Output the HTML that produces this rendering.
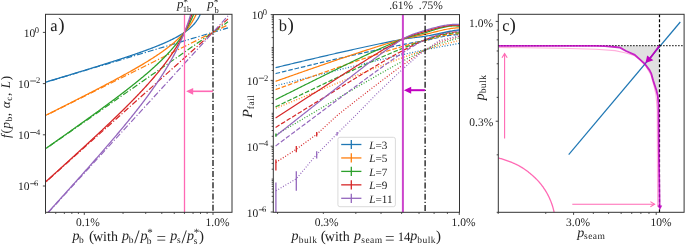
<!DOCTYPE html>
<html><head><meta charset="utf-8"><style>
html,body{margin:0;padding:0;background:#fff;width:685px;height:245px;overflow:hidden}
svg{display:block;will-change:transform}
text{font-family:"Liberation Serif",serif;fill:#222;text-rendering:geometricPrecision}
</style></head><body>
<svg xmlns="http://www.w3.org/2000/svg" width="685" height="245" viewBox="0 0 685 245">
<rect width="685" height="245" fill="#fff"/>
<defs>
<clipPath id="ca"><rect x="45.5" y="14.3" width="186.5" height="198.0"/></clipPath>
<clipPath id="cb"><rect x="273.3" y="14.6" width="186.2" height="197.70000000000002"/></clipPath>
<clipPath id="cc"><rect x="498.3" y="14.3" width="185.8" height="198.0"/></clipPath>
</defs>
<polyline points="40.50,83.77 228.00,27.82" fill="none" stroke="#1f77b4" stroke-width="1.2" stroke-dasharray="6,2,1.2,2" clip-path="url(#ca)" stroke-linejoin="round" />
<polyline points="40.50,118.08 228.00,24.84" fill="none" stroke="#ff7f0e" stroke-width="1.2" stroke-dasharray="6,2,1.2,2" clip-path="url(#ca)" stroke-linejoin="round" />
<polyline points="40.50,152.39 228.00,21.86" fill="none" stroke="#2ca02c" stroke-width="1.2" stroke-dasharray="6,2,1.2,2" clip-path="url(#ca)" stroke-linejoin="round" />
<polyline points="40.50,186.70 228.00,18.87" fill="none" stroke="#d62728" stroke-width="1.2" stroke-dasharray="6,2,1.2,2" clip-path="url(#ca)" stroke-linejoin="round" />
<polyline points="40.50,221.01 228.00,15.89" fill="none" stroke="#9467bd" stroke-width="1.2" stroke-dasharray="6,2,1.2,2" clip-path="url(#ca)" stroke-linejoin="round" />
<polyline points="40.00,83.85 40.43,83.72 40.86,83.59 41.29,83.46 41.72,83.33 42.16,83.20 42.59,83.07 43.02,82.94 43.45,82.81 43.88,82.68 44.31,82.55 44.74,82.42 45.17,82.29 45.60,82.16 46.04,82.03 46.47,81.90 46.90,81.77 47.33,81.64 47.76,81.51 48.19,81.38 48.62,81.25 49.05,81.12 49.48,80.99 49.91,80.86 50.35,80.73 50.78,80.60 51.21,80.47 51.64,80.34 52.07,80.21 52.50,80.08 52.93,79.95 53.36,79.82 53.79,79.69 54.23,79.56 54.66,79.43 55.09,79.30 55.52,79.17 55.95,79.04 56.38,78.91 56.81,78.78 57.24,78.65 57.67,78.52 58.11,78.39 58.54,78.26 58.97,78.13 59.40,78.00 59.83,77.87 60.26,77.74 60.69,77.61 61.12,77.48 61.55,77.35 61.98,77.22 62.42,77.09 62.85,76.96 63.28,76.83 63.71,76.70 64.14,76.57 64.57,76.44 65.00,76.31 65.43,76.18 65.86,76.04 66.30,75.91 66.73,75.78 67.16,75.65 67.59,75.52 68.02,75.39 68.45,75.26 68.88,75.13 69.31,75.00 69.74,74.87 70.18,74.74 70.61,74.60 71.04,74.47 71.47,74.34 71.90,74.21 72.33,74.08 72.76,73.95 73.19,73.82 73.62,73.69 74.06,73.56 74.49,73.42 74.92,73.29 75.35,73.16 75.78,73.03 76.21,72.90 76.64,72.77 77.07,72.64 77.50,72.50 77.93,72.37 78.37,72.24 78.80,72.11 79.23,71.98 79.66,71.84 80.09,71.71 80.52,71.58 80.95,71.45 81.38,71.32 81.81,71.19 82.25,71.05 82.68,70.92 83.11,70.79 83.54,70.66 83.97,70.52 84.40,70.39 84.83,70.26 85.26,70.13 85.69,69.99 86.13,69.86 86.56,69.73 86.99,69.60 87.42,69.46 87.85,69.33 88.28,69.20 88.71,69.07 89.14,68.93 89.57,68.80 90.01,68.67 90.44,68.53 90.87,68.40 91.30,68.27 91.73,68.13 92.16,68.00 92.59,67.87 93.02,67.73 93.45,67.60 93.88,67.47 94.32,67.33 94.75,67.20 95.18,67.07 95.61,66.93 96.04,66.80 96.47,66.66 96.90,66.53 97.33,66.39 97.76,66.26 98.20,66.13 98.63,65.99 99.06,65.86 99.49,65.72 99.92,65.59 100.35,65.45 100.78,65.32 101.21,65.18 101.64,65.05 102.08,64.91 102.51,64.78 102.94,64.64 103.37,64.51 103.80,64.37 104.23,64.24 104.66,64.10 105.09,63.96 105.52,63.83 105.95,63.69 106.39,63.56 106.82,63.42 107.25,63.28 107.68,63.15 108.11,63.01 108.54,62.87 108.97,62.74 109.40,62.60 109.83,62.46 110.27,62.33 110.70,62.19 111.13,62.05 111.56,61.91 111.99,61.78 112.42,61.64 112.85,61.50 113.28,61.36 113.71,61.23 114.15,61.09 114.58,60.95 115.01,60.81 115.44,60.67 115.87,60.53 116.30,60.39 116.73,60.25 117.16,60.12 117.59,59.98 118.03,59.84 118.46,59.70 118.89,59.56 119.32,59.42 119.75,59.28 120.18,59.14 120.61,59.00 121.04,58.85 121.47,58.71 121.90,58.57 122.34,58.43 122.77,58.29 123.20,58.15 123.63,58.01 124.06,57.86 124.49,57.72 124.92,57.58 125.35,57.44 125.78,57.29 126.22,57.15 126.65,57.01 127.08,56.86 127.51,56.72 127.94,56.58 128.37,56.43 128.80,56.29 129.23,56.14 129.66,56.00 130.10,55.85 130.53,55.71 130.96,55.56 131.39,55.42 131.82,55.27 132.25,55.13 132.68,54.98 133.11,54.83 133.54,54.68 133.97,54.54 134.41,54.39 134.84,54.24 135.27,54.09 135.70,53.95 136.13,53.80 136.56,53.65 136.99,53.50 137.42,53.35 137.85,53.20 138.29,53.05 138.72,52.90 139.15,52.75 139.58,52.59 140.01,52.44 140.44,52.29 140.87,52.14 141.30,51.98 141.73,51.83 142.17,51.68 142.60,51.52 143.03,51.37 143.46,51.21 143.89,51.06 144.32,50.90 144.75,50.75 145.18,50.59 145.61,50.43 146.05,50.28 146.48,50.12 146.91,49.96 147.34,49.80 147.77,49.64 148.20,49.48 148.63,49.32 149.06,49.16 149.49,49.00 149.92,48.84 150.36,48.68 150.79,48.51 151.22,48.35 151.65,48.18 152.08,48.02 152.51,47.85 152.94,47.69 153.37,47.52 153.80,47.35 154.24,47.19 154.67,47.02 155.10,46.85 155.53,46.68 155.96,46.51 156.39,46.34 156.82,46.17 157.25,45.99 157.68,45.82 158.12,45.64 158.55,45.47 158.98,45.29 159.41,45.12 159.84,44.94 160.27,44.76 160.70,44.58 161.13,44.40 161.56,44.22 161.99,44.04 162.43,43.86 162.86,43.67 163.29,43.49 163.72,43.30 164.15,43.11 164.58,42.92 165.01,42.73 165.44,42.54 165.87,42.35 166.31,42.16 166.74,41.97 167.17,41.77 167.60,41.57 168.03,41.37 168.46,41.18 168.89,40.97 169.32,40.77 169.75,40.57 170.19,40.36 170.62,40.16 171.05,39.95 171.48,39.74 171.91,39.53 172.34,39.31 172.77,39.10 173.20,38.88 173.63,38.66 174.07,38.44 174.50,38.22 174.93,37.99 175.36,37.77 175.79,37.54 176.22,37.31 176.65,37.07 177.08,36.84 177.51,36.60 177.94,36.36 178.38,36.11 178.81,35.87 179.24,35.62 179.67,35.36 180.10,35.11 180.53,34.85 180.96,34.59 181.39,34.32 181.82,34.05 182.26,33.78 182.69,33.51 183.12,33.23 183.55,32.94 183.98,32.65 184.41,32.36 184.84,32.06 185.27,31.76 185.70,31.45 186.14,31.14 186.57,30.82 187.00,30.50 187.43,30.17 187.86,29.83 188.29,29.49 188.72,29.14 189.15,28.78 189.58,28.42 190.02,28.05 190.45,27.66 190.88,27.27 191.31,26.87 191.74,26.46 192.17,26.04 192.60,25.60 193.03,25.16 193.46,24.70 193.89,24.22 194.33,23.73 194.76,23.22 195.19,22.70 195.62,22.15 196.05,21.59 196.48,21.00 196.91,20.38 197.34,19.74 197.77,19.06 198.21,18.35 198.64,17.60 199.07,16.80 199.50,15.95 199.93,15.05 200.36,14.07 200.79,13.02 201.22,11.87 201.65,10.61 202.09,9.20 202.52,7.61 202.95,5.79" fill="none" stroke="#1f77b4" stroke-width="1.3" clip-path="url(#ca)" stroke-linejoin="round" />
<polyline points="40.00,118.21 40.43,118.00 40.86,117.78 41.29,117.56 41.72,117.35 42.16,117.13 42.59,116.92 43.02,116.70 43.45,116.48 43.88,116.27 44.31,116.05 44.74,115.84 45.17,115.62 45.60,115.40 46.04,115.19 46.47,114.97 46.90,114.76 47.33,114.54 47.76,114.32 48.19,114.11 48.62,113.89 49.05,113.67 49.48,113.46 49.91,113.24 50.35,113.02 50.78,112.81 51.21,112.59 51.64,112.37 52.07,112.16 52.50,111.94 52.93,111.72 53.36,111.51 53.79,111.29 54.23,111.07 54.66,110.86 55.09,110.64 55.52,110.42 55.95,110.21 56.38,109.99 56.81,109.77 57.24,109.56 57.67,109.34 58.11,109.12 58.54,108.90 58.97,108.69 59.40,108.47 59.83,108.25 60.26,108.04 60.69,107.82 61.12,107.60 61.55,107.38 61.98,107.17 62.42,106.95 62.85,106.73 63.28,106.51 63.71,106.30 64.14,106.08 64.57,105.86 65.00,105.64 65.43,105.43 65.86,105.21 66.30,104.99 66.73,104.77 67.16,104.55 67.59,104.34 68.02,104.12 68.45,103.90 68.88,103.68 69.31,103.46 69.74,103.24 70.18,103.03 70.61,102.81 71.04,102.59 71.47,102.37 71.90,102.15 72.33,101.93 72.76,101.72 73.19,101.50 73.62,101.28 74.06,101.06 74.49,100.84 74.92,100.62 75.35,100.40 75.78,100.18 76.21,99.96 76.64,99.74 77.07,99.53 77.50,99.31 77.93,99.09 78.37,98.87 78.80,98.65 79.23,98.43 79.66,98.21 80.09,97.99 80.52,97.77 80.95,97.55 81.38,97.33 81.81,97.11 82.25,96.89 82.68,96.67 83.11,96.45 83.54,96.23 83.97,96.01 84.40,95.79 84.83,95.57 85.26,95.35 85.69,95.12 86.13,94.90 86.56,94.68 86.99,94.46 87.42,94.24 87.85,94.02 88.28,93.80 88.71,93.58 89.14,93.35 89.57,93.13 90.01,92.91 90.44,92.69 90.87,92.47 91.30,92.25 91.73,92.02 92.16,91.80 92.59,91.58 93.02,91.36 93.45,91.13 93.88,90.91 94.32,90.69 94.75,90.46 95.18,90.24 95.61,90.02 96.04,89.80 96.47,89.57 96.90,89.35 97.33,89.12 97.76,88.90 98.20,88.68 98.63,88.45 99.06,88.23 99.49,88.00 99.92,87.78 100.35,87.55 100.78,87.33 101.21,87.11 101.64,86.88 102.08,86.65 102.51,86.43 102.94,86.20 103.37,85.98 103.80,85.75 104.23,85.53 104.66,85.30 105.09,85.07 105.52,84.85 105.95,84.62 106.39,84.39 106.82,84.17 107.25,83.94 107.68,83.71 108.11,83.48 108.54,83.26 108.97,83.03 109.40,82.80 109.83,82.57 110.27,82.34 110.70,82.12 111.13,81.89 111.56,81.66 111.99,81.43 112.42,81.20 112.85,80.97 113.28,80.74 113.71,80.51 114.15,80.28 114.58,80.05 115.01,79.82 115.44,79.59 115.87,79.35 116.30,79.12 116.73,78.89 117.16,78.66 117.59,78.43 118.03,78.19 118.46,77.96 118.89,77.73 119.32,77.49 119.75,77.26 120.18,77.03 120.61,76.79 121.04,76.56 121.47,76.32 121.90,76.09 122.34,75.85 122.77,75.62 123.20,75.38 123.63,75.14 124.06,74.91 124.49,74.67 124.92,74.43 125.35,74.20 125.78,73.96 126.22,73.72 126.65,73.48 127.08,73.24 127.51,73.00 127.94,72.76 128.37,72.52 128.80,72.28 129.23,72.04 129.66,71.80 130.10,71.56 130.53,71.31 130.96,71.07 131.39,70.83 131.82,70.59 132.25,70.34 132.68,70.10 133.11,69.85 133.54,69.61 133.97,69.36 134.41,69.12 134.84,68.87 135.27,68.62 135.70,68.38 136.13,68.13 136.56,67.88 136.99,67.63 137.42,67.38 137.85,67.13 138.29,66.88 138.72,66.63 139.15,66.38 139.58,66.12 140.01,65.87 140.44,65.62 140.87,65.36 141.30,65.11 141.73,64.85 142.17,64.60 142.60,64.34 143.03,64.08 143.46,63.82 143.89,63.57 144.32,63.31 144.75,63.05 145.18,62.78 145.61,62.52 146.05,62.26 146.48,62.00 146.91,61.73 147.34,61.47 147.77,61.20 148.20,60.94 148.63,60.67 149.06,60.40 149.49,60.13 149.92,59.86 150.36,59.59 150.79,59.32 151.22,59.05 151.65,58.77 152.08,58.50 152.51,58.22 152.94,57.95 153.37,57.67 153.80,57.39 154.24,57.11 154.67,56.83 155.10,56.55 155.53,56.27 155.96,55.98 156.39,55.70 156.82,55.41 157.25,55.12 157.68,54.83 158.12,54.54 158.55,54.25 158.98,53.96 159.41,53.66 159.84,53.37 160.27,53.07 160.70,52.77 161.13,52.47 161.56,52.17 161.99,51.86 162.43,51.56 162.86,51.25 163.29,50.94 163.72,50.63 164.15,50.32 164.58,50.01 165.01,49.69 165.44,49.37 165.87,49.05 166.31,48.73 166.74,48.41 167.17,48.08 167.60,47.75 168.03,47.42 168.46,47.09 168.89,46.76 169.32,46.42 169.75,46.08 170.19,45.74 170.62,45.39 171.05,45.05 171.48,44.70 171.91,44.34 172.34,43.99 172.77,43.63 173.20,43.27 173.63,42.90 174.07,42.54 174.50,42.16 174.93,41.79 175.36,41.41 175.79,41.03 176.22,40.64 176.65,40.25 177.08,39.86 177.51,39.46 177.94,39.06 178.38,38.65 178.81,38.24 179.24,37.83 179.67,37.41 180.10,36.98 180.53,36.55 180.96,36.11 181.39,35.67 181.82,35.22 182.26,34.77 182.69,34.31 183.12,33.84 183.55,33.37 183.98,32.89 184.41,32.40 184.84,31.91 185.27,31.40 185.70,30.89 186.14,30.37 186.57,29.84 187.00,29.30 187.43,28.75 187.86,28.19 188.29,27.62 188.72,27.04 189.15,26.44 189.58,25.83 190.02,25.21 190.45,24.57 190.88,23.92 191.31,23.25 191.74,22.57 192.17,21.86 192.60,21.14 193.03,20.40 193.46,19.63 193.89,18.84 194.33,18.02 194.76,17.17 195.19,16.30 195.62,15.39 196.05,14.45 196.48,13.46 196.91,12.43 197.34,11.36 197.77,10.23 198.21,9.05 198.64,7.79 199.07,6.47 199.50,5.05" fill="none" stroke="#ff7f0e" stroke-width="1.3" clip-path="url(#ca)" stroke-linejoin="round" />
<polyline points="40.00,152.58 40.43,152.28 40.86,151.97 41.29,151.67 41.72,151.37 42.16,151.07 42.59,150.76 43.02,150.46 43.45,150.16 43.88,149.86 44.31,149.55 44.74,149.25 45.17,148.95 45.60,148.65 46.04,148.34 46.47,148.04 46.90,147.74 47.33,147.43 47.76,147.13 48.19,146.83 48.62,146.53 49.05,146.22 49.48,145.92 49.91,145.62 50.35,145.31 50.78,145.01 51.21,144.71 51.64,144.40 52.07,144.10 52.50,143.80 52.93,143.49 53.36,143.19 53.79,142.89 54.23,142.58 54.66,142.28 55.09,141.98 55.52,141.67 55.95,141.37 56.38,141.07 56.81,140.76 57.24,140.46 57.67,140.15 58.11,139.85 58.54,139.55 58.97,139.24 59.40,138.94 59.83,138.63 60.26,138.33 60.69,138.03 61.12,137.72 61.55,137.42 61.98,137.11 62.42,136.81 62.85,136.50 63.28,136.20 63.71,135.89 64.14,135.59 64.57,135.28 65.00,134.98 65.43,134.68 65.86,134.37 66.30,134.07 66.73,133.76 67.16,133.45 67.59,133.15 68.02,132.84 68.45,132.54 68.88,132.23 69.31,131.93 69.74,131.62 70.18,131.32 70.61,131.01 71.04,130.71 71.47,130.40 71.90,130.09 72.33,129.79 72.76,129.48 73.19,129.18 73.62,128.87 74.06,128.56 74.49,128.26 74.92,127.95 75.35,127.64 75.78,127.34 76.21,127.03 76.64,126.72 77.07,126.42 77.50,126.11 77.93,125.80 78.37,125.49 78.80,125.19 79.23,124.88 79.66,124.57 80.09,124.26 80.52,123.96 80.95,123.65 81.38,123.34 81.81,123.03 82.25,122.72 82.68,122.42 83.11,122.11 83.54,121.80 83.97,121.49 84.40,121.18 84.83,120.87 85.26,120.56 85.69,120.25 86.13,119.94 86.56,119.64 86.99,119.33 87.42,119.02 87.85,118.71 88.28,118.40 88.71,118.09 89.14,117.78 89.57,117.47 90.01,117.16 90.44,116.85 90.87,116.53 91.30,116.22 91.73,115.91 92.16,115.60 92.59,115.29 93.02,114.98 93.45,114.67 93.88,114.35 94.32,114.04 94.75,113.73 95.18,113.42 95.61,113.11 96.04,112.79 96.47,112.48 96.90,112.17 97.33,111.85 97.76,111.54 98.20,111.23 98.63,110.91 99.06,110.60 99.49,110.29 99.92,109.97 100.35,109.66 100.78,109.34 101.21,109.03 101.64,108.71 102.08,108.40 102.51,108.08 102.94,107.77 103.37,107.45 103.80,107.13 104.23,106.82 104.66,106.50 105.09,106.18 105.52,105.87 105.95,105.55 106.39,105.23 106.82,104.91 107.25,104.60 107.68,104.28 108.11,103.96 108.54,103.64 108.97,103.32 109.40,103.00 109.83,102.68 110.27,102.36 110.70,102.04 111.13,101.72 111.56,101.40 111.99,101.08 112.42,100.76 112.85,100.44 113.28,100.11 113.71,99.79 114.15,99.47 114.58,99.15 115.01,98.82 115.44,98.50 115.87,98.18 116.30,97.85 116.73,97.53 117.16,97.20 117.59,96.88 118.03,96.55 118.46,96.22 118.89,95.90 119.32,95.57 119.75,95.24 120.18,94.92 120.61,94.59 121.04,94.26 121.47,93.93 121.90,93.60 122.34,93.27 122.77,92.94 123.20,92.61 123.63,92.28 124.06,91.95 124.49,91.62 124.92,91.29 125.35,90.95 125.78,90.62 126.22,90.29 126.65,89.95 127.08,89.62 127.51,89.28 127.94,88.95 128.37,88.61 128.80,88.27 129.23,87.94 129.66,87.60 130.10,87.26 130.53,86.92 130.96,86.58 131.39,86.24 131.82,85.90 132.25,85.56 132.68,85.22 133.11,84.87 133.54,84.53 133.97,84.19 134.41,83.84 134.84,83.50 135.27,83.15 135.70,82.81 136.13,82.46 136.56,82.11 136.99,81.76 137.42,81.41 137.85,81.06 138.29,80.71 138.72,80.36 139.15,80.01 139.58,79.65 140.01,79.30 140.44,78.94 140.87,78.59 141.30,78.23 141.73,77.87 142.17,77.51 142.60,77.16 143.03,76.79 143.46,76.43 143.89,76.07 144.32,75.71 144.75,75.34 145.18,74.98 145.61,74.61 146.05,74.24 146.48,73.88 146.91,73.51 147.34,73.14 147.77,72.76 148.20,72.39 148.63,72.02 149.06,71.64 149.49,71.27 149.92,70.89 150.36,70.51 150.79,70.13 151.22,69.75 151.65,69.36 152.08,68.98 152.51,68.59 152.94,68.21 153.37,67.82 153.80,67.43 154.24,67.04 154.67,66.64 155.10,66.25 155.53,65.85 155.96,65.45 156.39,65.05 156.82,64.65 157.25,64.25 157.68,63.85 158.12,63.44 158.55,63.03 158.98,62.62 159.41,62.21 159.84,61.79 160.27,61.38 160.70,60.96 161.13,60.54 161.56,60.11 161.99,59.69 162.43,59.26 162.86,58.83 163.29,58.40 163.72,57.97 164.15,57.53 164.58,57.09 165.01,56.65 165.44,56.20 165.87,55.76 166.31,55.30 166.74,54.85 167.17,54.40 167.60,53.94 168.03,53.47 168.46,53.01 168.89,52.54 169.32,52.07 169.75,51.59 170.19,51.11 170.62,50.63 171.05,50.15 171.48,49.66 171.91,49.16 172.34,48.66 172.77,48.16 173.20,47.66 173.63,47.14 174.07,46.63 174.50,46.11 174.93,45.58 175.36,45.05 175.79,44.52 176.22,43.98 176.65,43.43 177.08,42.88 177.51,42.33 177.94,41.76 178.38,41.19 178.81,40.62 179.24,40.04 179.67,39.45 180.10,38.85 180.53,38.25 180.96,37.64 181.39,37.02 181.82,36.39 182.26,35.76 182.69,35.11 183.12,34.46 183.55,33.80 183.98,33.13 184.41,32.44 184.84,31.75 185.27,31.04 185.70,30.33 186.14,29.60 186.57,28.86 187.00,28.10 187.43,27.33 187.86,26.55 188.29,25.75 188.72,24.93 189.15,24.10 189.58,23.24 190.02,22.37 190.45,21.48 190.88,20.57 191.31,19.63 191.74,18.67 192.17,17.69 192.60,16.68 193.03,15.63 193.46,14.56 193.89,13.45 194.33,12.31 194.76,11.12 195.19,9.90 195.62,8.63 196.05,7.30 196.48,5.93" fill="none" stroke="#2ca02c" stroke-width="1.3" clip-path="url(#ca)" stroke-linejoin="round" />
<polyline points="40.00,186.94 40.43,186.55 40.86,186.17 41.29,185.78 41.72,185.39 42.16,185.00 42.59,184.61 43.02,184.22 43.45,183.83 43.88,183.44 44.31,183.05 44.74,182.67 45.17,182.28 45.60,181.89 46.04,181.50 46.47,181.11 46.90,180.72 47.33,180.33 47.76,179.94 48.19,179.55 48.62,179.16 49.05,178.77 49.48,178.38 49.91,177.99 50.35,177.60 50.78,177.21 51.21,176.82 51.64,176.43 52.07,176.04 52.50,175.65 52.93,175.26 53.36,174.87 53.79,174.48 54.23,174.09 54.66,173.70 55.09,173.31 55.52,172.92 55.95,172.53 56.38,172.14 56.81,171.75 57.24,171.36 57.67,170.97 58.11,170.58 58.54,170.19 58.97,169.80 59.40,169.41 59.83,169.02 60.26,168.62 60.69,168.23 61.12,167.84 61.55,167.45 61.98,167.06 62.42,166.67 62.85,166.28 63.28,165.88 63.71,165.49 64.14,165.10 64.57,164.71 65.00,164.32 65.43,163.93 65.86,163.53 66.30,163.14 66.73,162.75 67.16,162.36 67.59,161.96 68.02,161.57 68.45,161.18 68.88,160.79 69.31,160.39 69.74,160.00 70.18,159.61 70.61,159.21 71.04,158.82 71.47,158.43 71.90,158.03 72.33,157.64 72.76,157.25 73.19,156.85 73.62,156.46 74.06,156.07 74.49,155.67 74.92,155.28 75.35,154.88 75.78,154.49 76.21,154.09 76.64,153.70 77.07,153.31 77.50,152.91 77.93,152.52 78.37,152.12 78.80,151.73 79.23,151.33 79.66,150.93 80.09,150.54 80.52,150.14 80.95,149.75 81.38,149.35 81.81,148.96 82.25,148.56 82.68,148.16 83.11,147.77 83.54,147.37 83.97,146.97 84.40,146.58 84.83,146.18 85.26,145.78 85.69,145.38 86.13,144.99 86.56,144.59 86.99,144.19 87.42,143.79 87.85,143.39 88.28,143.00 88.71,142.60 89.14,142.20 89.57,141.80 90.01,141.40 90.44,141.00 90.87,140.60 91.30,140.20 91.73,139.80 92.16,139.40 92.59,139.00 93.02,138.60 93.45,138.20 93.88,137.80 94.32,137.40 94.75,137.00 95.18,136.60 95.61,136.19 96.04,135.79 96.47,135.39 96.90,134.99 97.33,134.58 97.76,134.18 98.20,133.78 98.63,133.37 99.06,132.97 99.49,132.57 99.92,132.16 100.35,131.76 100.78,131.35 101.21,130.95 101.64,130.54 102.08,130.14 102.51,129.73 102.94,129.33 103.37,128.92 103.80,128.51 104.23,128.11 104.66,127.70 105.09,127.29 105.52,126.89 105.95,126.48 106.39,126.07 106.82,125.66 107.25,125.25 107.68,124.84 108.11,124.43 108.54,124.02 108.97,123.61 109.40,123.20 109.83,122.79 110.27,122.38 110.70,121.97 111.13,121.56 111.56,121.14 111.99,120.73 112.42,120.32 112.85,119.90 113.28,119.49 113.71,119.08 114.15,118.66 114.58,118.25 115.01,117.83 115.44,117.41 115.87,117.00 116.30,116.58 116.73,116.16 117.16,115.75 117.59,115.33 118.03,114.91 118.46,114.49 118.89,114.07 119.32,113.65 119.75,113.23 120.18,112.81 120.61,112.39 121.04,111.96 121.47,111.54 121.90,111.12 122.34,110.69 122.77,110.27 123.20,109.84 123.63,109.42 124.06,108.99 124.49,108.57 124.92,108.14 125.35,107.71 125.78,107.28 126.22,106.85 126.65,106.42 127.08,105.99 127.51,105.56 127.94,105.13 128.37,104.70 128.80,104.27 129.23,103.83 129.66,103.40 130.10,102.96 130.53,102.53 130.96,102.09 131.39,101.65 131.82,101.21 132.25,100.78 132.68,100.34 133.11,99.90 133.54,99.45 133.97,99.01 134.41,98.57 134.84,98.13 135.27,97.68 135.70,97.24 136.13,96.79 136.56,96.34 136.99,95.89 137.42,95.44 137.85,94.99 138.29,94.54 138.72,94.09 139.15,93.64 139.58,93.18 140.01,92.73 140.44,92.27 140.87,91.81 141.30,91.35 141.73,90.89 142.17,90.43 142.60,89.97 143.03,89.51 143.46,89.04 143.89,88.58 144.32,88.11 144.75,87.64 145.18,87.17 145.61,86.70 146.05,86.23 146.48,85.76 146.91,85.28 147.34,84.80 147.77,84.33 148.20,83.85 148.63,83.37 149.06,82.88 149.49,82.40 149.92,81.91 150.36,81.43 150.79,80.94 151.22,80.45 151.65,79.95 152.08,79.46 152.51,78.96 152.94,78.47 153.37,77.97 153.80,77.46 154.24,76.96 154.67,76.46 155.10,75.95 155.53,75.44 155.96,74.93 156.39,74.41 156.82,73.90 157.25,73.38 157.68,72.86 158.12,72.33 158.55,71.81 158.98,71.28 159.41,70.75 159.84,70.22 160.27,69.68 160.70,69.15 161.13,68.60 161.56,68.06 161.99,67.51 162.43,66.97 162.86,66.41 163.29,65.86 163.72,65.30 164.15,64.74 164.58,64.17 165.01,63.60 165.44,63.03 165.87,62.46 166.31,61.88 166.74,61.30 167.17,60.71 167.60,60.12 168.03,59.52 168.46,58.93 168.89,58.32 169.32,57.72 169.75,57.11 170.19,56.49 170.62,55.87 171.05,55.24 171.48,54.61 171.91,53.98 172.34,53.34 172.77,52.69 173.20,52.04 173.63,51.39 174.07,50.72 174.50,50.05 174.93,49.38 175.36,48.70 175.79,48.01 176.22,47.32 176.65,46.62 177.08,45.91 177.51,45.19 177.94,44.47 178.38,43.74 178.81,43.00 179.24,42.25 179.67,41.49 180.10,40.72 180.53,39.95 180.96,39.16 181.39,38.37 181.82,37.56 182.26,36.75 182.69,35.92 183.12,35.08 183.55,34.23 183.98,33.36 184.41,32.48 184.84,31.59 185.27,30.68 185.70,29.76 186.14,28.83 186.57,27.87 187.00,26.90 187.43,25.91 187.86,24.90 188.29,23.87 188.72,22.82 189.15,21.75 189.58,20.66 190.02,19.54 190.45,18.39 190.88,17.22 191.31,16.02 191.74,14.78 192.17,13.51 192.60,12.21 193.03,10.87 193.46,9.49 193.89,8.07 194.33,6.60 194.76,5.07" fill="none" stroke="#d62728" stroke-width="1.3" clip-path="url(#ca)" stroke-linejoin="round" />
<polyline points="40.00,221.31 40.43,220.83 40.86,220.36 41.29,219.88 41.72,219.41 42.16,218.93 42.59,218.46 43.02,217.98 43.45,217.51 43.88,217.03 44.31,216.56 44.74,216.08 45.17,215.60 45.60,215.13 46.04,214.65 46.47,214.18 46.90,213.70 47.33,213.23 47.76,212.75 48.19,212.27 48.62,211.80 49.05,211.32 49.48,210.85 49.91,210.37 50.35,209.89 50.78,209.42 51.21,208.94 51.64,208.46 52.07,207.99 52.50,207.51 52.93,207.03 53.36,206.56 53.79,206.08 54.23,205.60 54.66,205.13 55.09,204.65 55.52,204.17 55.95,203.69 56.38,203.22 56.81,202.74 57.24,202.26 57.67,201.79 58.11,201.31 58.54,200.83 58.97,200.35 59.40,199.87 59.83,199.40 60.26,198.92 60.69,198.44 61.12,197.96 61.55,197.48 61.98,197.01 62.42,196.53 62.85,196.05 63.28,195.57 63.71,195.09 64.14,194.61 64.57,194.13 65.00,193.65 65.43,193.18 65.86,192.70 66.30,192.22 66.73,191.74 67.16,191.26 67.59,190.78 68.02,190.30 68.45,189.82 68.88,189.34 69.31,188.86 69.74,188.38 70.18,187.90 70.61,187.42 71.04,186.94 71.47,186.46 71.90,185.98 72.33,185.49 72.76,185.01 73.19,184.53 73.62,184.05 74.06,183.57 74.49,183.09 74.92,182.61 75.35,182.12 75.78,181.64 76.21,181.16 76.64,180.68 77.07,180.20 77.50,179.71 77.93,179.23 78.37,178.75 78.80,178.26 79.23,177.78 79.66,177.30 80.09,176.81 80.52,176.33 80.95,175.85 81.38,175.36 81.81,174.88 82.25,174.39 82.68,173.91 83.11,173.43 83.54,172.94 83.97,172.46 84.40,171.97 84.83,171.49 85.26,171.00 85.69,170.51 86.13,170.03 86.56,169.54 86.99,169.06 87.42,168.57 87.85,168.08 88.28,167.59 88.71,167.11 89.14,166.62 89.57,166.13 90.01,165.64 90.44,165.16 90.87,164.67 91.30,164.18 91.73,163.69 92.16,163.20 92.59,162.71 93.02,162.22 93.45,161.73 93.88,161.24 94.32,160.75 94.75,160.26 95.18,159.77 95.61,159.28 96.04,158.79 96.47,158.30 96.90,157.81 97.33,157.31 97.76,156.82 98.20,156.33 98.63,155.84 99.06,155.34 99.49,154.85 99.92,154.36 100.35,153.86 100.78,153.37 101.21,152.87 101.64,152.38 102.08,151.88 102.51,151.38 102.94,150.89 103.37,150.39 103.80,149.90 104.23,149.40 104.66,148.90 105.09,148.40 105.52,147.90 105.95,147.41 106.39,146.91 106.82,146.41 107.25,145.91 107.68,145.41 108.11,144.91 108.54,144.41 108.97,143.90 109.40,143.40 109.83,142.90 110.27,142.40 110.70,141.89 111.13,141.39 111.56,140.89 111.99,140.38 112.42,139.88 112.85,139.37 113.28,138.86 113.71,138.36 114.15,137.85 114.58,137.34 115.01,136.84 115.44,136.33 115.87,135.82 116.30,135.31 116.73,134.80 117.16,134.29 117.59,133.78 118.03,133.27 118.46,132.75 118.89,132.24 119.32,131.73 119.75,131.21 120.18,130.70 120.61,130.18 121.04,129.67 121.47,129.15 121.90,128.63 122.34,128.11 122.77,127.60 123.20,127.08 123.63,126.56 124.06,126.04 124.49,125.51 124.92,124.99 125.35,124.47 125.78,123.95 126.22,123.42 126.65,122.90 127.08,122.37 127.51,121.84 127.94,121.32 128.37,120.79 128.80,120.26 129.23,119.73 129.66,119.20 130.10,118.67 130.53,118.13 130.96,117.60 131.39,117.06 131.82,116.53 132.25,115.99 132.68,115.46 133.11,114.92 133.54,114.38 133.97,113.84 134.41,113.30 134.84,112.75 135.27,112.21 135.70,111.67 136.13,111.12 136.56,110.57 136.99,110.02 137.42,109.48 137.85,108.92 138.29,108.37 138.72,107.82 139.15,107.27 139.58,106.71 140.01,106.15 140.44,105.60 140.87,105.04 141.30,104.48 141.73,103.91 142.17,103.35 142.60,102.79 143.03,102.22 143.46,101.65 143.89,101.08 144.32,100.51 144.75,99.94 145.18,99.37 145.61,98.79 146.05,98.21 146.48,97.63 146.91,97.05 147.34,96.47 147.77,95.89 148.20,95.30 148.63,94.71 149.06,94.12 149.49,93.53 149.92,92.94 150.36,92.34 150.79,91.74 151.22,91.15 151.65,90.54 152.08,89.94 152.51,89.33 152.94,88.72 153.37,88.11 153.80,87.50 154.24,86.89 154.67,86.27 155.10,85.65 155.53,85.02 155.96,84.40 156.39,83.77 156.82,83.14 157.25,82.51 157.68,81.87 158.12,81.23 158.55,80.59 158.98,79.94 159.41,79.30 159.84,78.65 160.27,77.99 160.70,77.33 161.13,76.67 161.56,76.01 161.99,75.34 162.43,74.67 162.86,73.99 163.29,73.31 163.72,72.63 164.15,71.95 164.58,71.25 165.01,70.56 165.44,69.86 165.87,69.16 166.31,68.45 166.74,67.74 167.17,67.02 167.60,66.30 168.03,65.57 168.46,64.84 168.89,64.11 169.32,63.37 169.75,62.62 170.19,61.87 170.62,61.11 171.05,60.34 171.48,59.57 171.91,58.80 172.34,58.01 172.77,57.23 173.20,56.43 173.63,55.63 174.07,54.82 174.50,54.00 174.93,53.18 175.36,52.34 175.79,51.50 176.22,50.65 176.65,49.80 177.08,48.93 177.51,48.06 177.94,47.17 178.38,46.28 178.81,45.37 179.24,44.46 179.67,43.53 180.10,42.60 180.53,41.65 180.96,40.69 181.39,39.72 181.82,38.73 182.26,37.73 182.69,36.72 183.12,35.70 183.55,34.65 183.98,33.60 184.41,32.52 184.84,31.43 185.27,30.33 185.70,29.20 186.14,28.05 186.57,26.89 187.00,25.70 187.43,24.49 187.86,23.26 188.29,22.00 188.72,20.72 189.15,19.41 189.58,18.07 190.02,16.70 190.45,15.30 190.88,13.87 191.31,12.40 191.74,10.89 192.17,9.34 192.60,7.75 193.03,6.11" fill="none" stroke="#9467bd" stroke-width="1.3" clip-path="url(#ca)" stroke-linejoin="round" />
<line x1="184.50" y1="14.30" x2="184.50" y2="212.30" stroke="#ff69b4" stroke-width="1.3" />
<line x1="213.00" y1="14.30" x2="213.00" y2="212.30" stroke="#000" stroke-width="1.2" stroke-dasharray="6,2,1.2,2" />
<line x1="212.90" y1="91.30" x2="192.00" y2="91.30" stroke="#ff69b4" stroke-width="1.6" />
<polygon points="186.1,91.3 193.2,87.9 193.2,94.7" fill="#ff69b4"/>
<polyline points="275.90,85.70 296.30,80.61 316.70,75.42 337.10,70.29 357.50,65.24 377.90,60.33 398.30,55.60 418.70,51.13 439.10,47.01 459.50,43.37" fill="none" stroke="#1f77b4" stroke-width="1.2" stroke-dasharray="1.0,1.75" clip-path="url(#cb)" stroke-linejoin="round" />
<polyline points="275.90,108.20 296.30,99.87 316.70,91.51 337.10,83.20 357.50,74.98 377.90,66.92 398.30,59.16 418.70,51.90 439.10,45.48 459.50,40.41" fill="none" stroke="#ff7f0e" stroke-width="1.2" stroke-dasharray="1.0,1.75" clip-path="url(#cb)" stroke-linejoin="round" />
<polyline points="275.90,134.80 296.30,122.83 316.70,110.78 337.10,98.75 357.50,86.79 377.90,74.98 398.30,63.51 418.70,52.82 439.10,43.79 459.50,37.84" fill="none" stroke="#2ca02c" stroke-width="1.2" stroke-dasharray="1.0,1.75" clip-path="url(#cb)" stroke-linejoin="round" />
<polyline points="275.90,162.40 296.30,149.20 316.70,134.30 337.10,115.50 357.50,99.42 377.90,83.65 398.30,68.23 418.70,53.82 439.10,42.16 459.50,36.29" fill="none" stroke="#d62728" stroke-width="1.2" stroke-dasharray="1.0,1.75" clip-path="url(#cb)" stroke-linejoin="round" />
<polyline points="275.90,190.80 296.30,178.80 316.70,154.40 337.10,133.80 357.50,113.50 377.90,92.67 398.30,73.17 418.70,54.85 439.10,40.65 459.50,35.71" fill="none" stroke="#9467bd" stroke-width="1.2" stroke-dasharray="1.0,1.75" clip-path="url(#cb)" stroke-linejoin="round" />
<polyline points="275.60,73.57 276.76,73.29 277.91,73.00 279.07,72.72 280.23,72.44 281.38,72.16 282.54,71.87 283.70,71.59 284.85,71.31 286.01,71.03 287.17,70.75 288.32,70.47 289.48,70.19 290.64,69.91 291.79,69.62 292.95,69.34 294.11,69.06 295.26,68.78 296.42,68.50 297.58,68.23 298.73,67.95 299.89,67.67 301.05,67.39 302.20,67.11 303.36,66.83 304.52,66.55 305.67,66.28 306.83,66.00 307.98,65.72 309.14,65.44 310.30,65.17 311.45,64.89 312.61,64.61 313.77,64.34 314.92,64.06 316.08,63.79 317.24,63.51 318.39,63.24 319.55,62.96 320.71,62.69 321.86,62.41 323.02,62.14 324.18,61.87 325.33,61.60 326.49,61.32 327.65,61.05 328.80,60.78 329.96,60.51 331.12,60.24 332.27,59.97 333.43,59.70 334.59,59.43 335.74,59.16 336.90,58.89 338.06,58.62 339.21,58.35 340.37,58.08 341.53,57.82 342.68,57.55 343.84,57.29 345.00,57.02 346.15,56.75 347.31,56.49 348.47,56.23 349.62,55.96 350.78,55.70 351.94,55.44 353.09,55.17 354.25,54.91 355.41,54.65 356.56,54.39 357.72,54.13 358.88,53.87 360.03,53.61 361.19,53.36 362.35,53.10 363.50,52.84 364.66,52.59 365.82,52.33 366.97,52.08 368.13,51.82 369.28,51.57 370.44,51.32 371.60,51.07 372.75,50.82 373.91,50.57 375.07,50.32 376.22,50.07 377.38,49.82 378.54,49.57 379.69,49.33 380.85,49.08 382.01,48.84 383.16,48.59 384.32,48.35 385.48,48.11 386.63,47.87 387.79,47.63 388.95,47.39 390.10,47.15 391.26,46.92 392.42,46.68 393.57,46.45 394.73,46.21 395.89,45.98 397.04,45.75 398.20,45.52 399.36,45.29 400.51,45.06 401.67,44.84 402.83,44.61 403.98,44.39 405.14,44.16 406.30,43.94 407.45,43.72 408.61,43.50 409.77,43.28 410.92,43.07 412.08,42.85 413.24,42.64 414.39,42.42 415.55,42.21 416.71,42.01 417.86,41.80 419.02,41.60 420.18,41.41 421.33,41.21 422.49,41.01 423.65,40.80 424.80,40.58 425.96,40.35 427.12,40.11 428.27,39.87 429.43,39.61 430.58,39.35 431.74,39.09 432.90,38.82 434.05,38.55 435.21,38.28 436.37,38.01 437.52,37.75 438.68,37.49 439.84,37.23 440.99,36.97 442.15,36.73 443.31,36.49 444.46,36.26 445.62,36.04 446.78,35.84 447.93,35.64 449.09,35.46 450.25,35.30 451.40,35.15 452.56,35.03 453.72,34.92 454.87,34.83 456.03,34.76 457.19,34.72 458.34,34.70 459.50,34.70" fill="none" stroke="#1f77b4" stroke-width="1.2" stroke-dasharray="4.6,1.9" clip-path="url(#cb)" stroke-linejoin="round" />
<polyline points="275.60,89.57 276.76,89.16 277.91,88.74 279.07,88.33 280.23,87.91 281.38,87.50 282.54,87.09 283.70,86.67 284.85,86.26 286.01,85.84 287.17,85.43 288.32,85.02 289.48,84.60 290.64,84.19 291.79,83.78 292.95,83.36 294.11,82.95 295.26,82.54 296.42,82.12 297.58,81.71 298.73,81.30 299.89,80.89 301.05,80.48 302.20,80.06 303.36,79.65 304.52,79.24 305.67,78.83 306.83,78.42 307.98,78.01 309.14,77.60 310.30,77.19 311.45,76.78 312.61,76.37 313.77,75.96 314.92,75.55 316.08,75.14 317.24,74.73 318.39,74.32 319.55,73.92 320.71,73.51 321.86,73.10 323.02,72.69 324.18,72.29 325.33,71.88 326.49,71.48 327.65,71.07 328.80,70.67 329.96,70.26 331.12,69.86 332.27,69.45 333.43,69.05 334.59,68.64 335.74,68.24 336.90,67.84 338.06,67.44 339.21,67.04 340.37,66.64 341.53,66.24 342.68,65.84 343.84,65.44 345.00,65.04 346.15,64.64 347.31,64.24 348.47,63.85 349.62,63.45 350.78,63.05 351.94,62.66 353.09,62.26 354.25,61.87 355.41,61.48 356.56,61.09 357.72,60.69 358.88,60.30 360.03,59.91 361.19,59.53 362.35,59.14 363.50,58.75 364.66,58.36 365.82,57.98 366.97,57.59 368.13,57.21 369.28,56.83 370.44,56.45 371.60,56.07 372.75,55.69 373.91,55.31 375.07,54.93 376.22,54.56 377.38,54.18 378.54,53.81 379.69,53.44 380.85,53.07 382.01,52.70 383.16,52.33 384.32,51.96 385.48,51.60 386.63,51.24 387.79,50.87 388.95,50.51 390.10,50.15 391.26,49.80 392.42,49.44 393.57,49.09 394.73,48.74 395.89,48.39 397.04,48.04 398.20,47.69 399.36,47.35 400.51,47.01 401.67,46.67 402.83,46.33 403.98,46.00 405.14,45.66 406.30,45.33 407.45,45.00 408.61,44.68 409.77,44.35 410.92,44.03 412.08,43.72 413.24,43.40 414.39,43.09 415.55,42.78 416.71,42.47 417.86,42.17 419.02,41.87 420.18,41.58 421.33,41.29 422.49,41.00 423.65,40.71 424.80,40.41 425.96,40.11 427.12,39.80 428.27,39.48 429.43,39.17 430.58,38.85 431.74,38.54 432.90,38.23 434.05,37.92 435.21,37.61 436.37,37.30 437.52,37.01 438.68,36.72 439.84,36.43 440.99,36.16 442.15,35.89 443.31,35.64 444.46,35.39 445.62,35.16 446.78,34.95 447.93,34.75 449.09,34.56 450.25,34.40 451.40,34.25 452.56,34.12 453.72,34.01 454.87,33.92 456.03,33.85 457.19,33.81 458.34,33.79 459.50,33.80" fill="none" stroke="#ff7f0e" stroke-width="1.2" stroke-dasharray="4.6,1.9" clip-path="url(#cb)" stroke-linejoin="round" />
<polyline points="275.60,106.84 276.76,106.28 277.91,105.73 279.07,105.18 280.23,104.62 281.38,104.07 282.54,103.52 283.70,102.96 284.85,102.41 286.01,101.86 287.17,101.30 288.32,100.75 289.48,100.20 290.64,99.65 291.79,99.09 292.95,98.54 294.11,97.99 295.26,97.44 296.42,96.88 297.58,96.33 298.73,95.78 299.89,95.23 301.05,94.68 302.20,94.12 303.36,93.57 304.52,93.02 305.67,92.47 306.83,91.92 307.98,91.37 309.14,90.82 310.30,90.27 311.45,89.72 312.61,89.17 313.77,88.62 314.92,88.07 316.08,87.52 317.24,86.97 318.39,86.42 319.55,85.87 320.71,85.32 321.86,84.77 323.02,84.22 324.18,83.67 325.33,83.13 326.49,82.58 327.65,82.03 328.80,81.48 329.96,80.94 331.12,80.39 332.27,79.85 333.43,79.30 334.59,78.75 335.74,78.21 336.90,77.67 338.06,77.12 339.21,76.58 340.37,76.03 341.53,75.49 342.68,74.95 343.84,74.41 345.00,73.87 346.15,73.33 347.31,72.79 348.47,72.25 349.62,71.71 350.78,71.17 351.94,70.63 353.09,70.10 354.25,69.56 355.41,69.02 356.56,68.49 357.72,67.96 358.88,67.42 360.03,66.89 361.19,66.36 362.35,65.83 363.50,65.30 364.66,64.77 365.82,64.24 366.97,63.72 368.13,63.19 369.28,62.67 370.44,62.15 371.60,61.62 372.75,61.10 373.91,60.58 375.07,60.07 376.22,59.55 377.38,59.04 378.54,58.52 379.69,58.01 380.85,57.50 382.01,56.99 383.16,56.49 384.32,55.98 385.48,55.48 386.63,54.98 387.79,54.48 388.95,53.99 390.10,53.49 391.26,53.00 392.42,52.51 393.57,52.03 394.73,51.54 395.89,51.06 397.04,50.58 398.20,50.11 399.36,49.63 400.51,49.16 401.67,48.70 402.83,48.23 403.98,47.77 405.14,47.32 406.30,46.86 407.45,46.42 408.61,45.97 409.77,45.53 410.92,45.09 412.08,44.66 413.24,44.23 414.39,43.81 415.55,43.39 416.71,42.98 417.86,42.57 419.02,42.17 420.18,41.78 421.33,41.39 422.49,41.00 423.65,40.61 424.80,40.23 425.96,39.84 427.12,39.45 428.27,39.07 429.43,38.68 430.58,38.30 431.74,37.93 432.90,37.56 434.05,37.19 435.21,36.84 436.37,36.49 437.52,36.15 438.68,35.82 439.84,35.51 440.99,35.20 442.15,34.91 443.31,34.63 444.46,34.37 445.62,34.13 446.78,33.90 447.93,33.69 449.09,33.50 450.25,33.33 451.40,33.18 452.56,33.05 453.72,32.94 454.87,32.86 456.03,32.81 457.19,32.78 458.34,32.77 459.50,32.80" fill="none" stroke="#2ca02c" stroke-width="1.2" stroke-dasharray="4.6,1.9" clip-path="url(#cb)" stroke-linejoin="round" />
<polyline points="275.60,127.43 276.76,126.72 277.91,126.00 279.07,125.28 280.23,124.57 281.38,123.85 282.54,123.13 283.70,122.42 284.85,121.70 286.01,120.98 287.17,120.27 288.32,119.55 289.48,118.83 290.64,118.12 291.79,117.40 292.95,116.68 294.11,115.97 295.26,115.25 296.42,114.53 297.58,113.82 298.73,113.10 299.89,112.39 301.05,111.67 302.20,110.95 303.36,110.24 304.52,109.52 305.67,108.81 306.83,108.09 307.98,107.37 309.14,106.66 310.30,105.94 311.45,105.23 312.61,104.51 313.77,103.80 314.92,103.08 316.08,102.37 317.24,101.65 318.39,100.94 319.55,100.22 320.71,99.51 321.86,98.79 323.02,98.08 324.18,97.37 325.33,96.65 326.49,95.94 327.65,95.23 328.80,94.51 329.96,93.80 331.12,93.09 332.27,92.37 333.43,91.66 334.59,90.95 335.74,90.24 336.90,89.53 338.06,88.82 339.21,88.10 340.37,87.39 341.53,86.68 342.68,85.97 343.84,85.26 345.00,84.56 346.15,83.85 347.31,83.14 348.47,82.43 349.62,81.72 350.78,81.02 351.94,80.31 353.09,79.61 354.25,78.90 355.41,78.20 356.56,77.49 357.72,76.79 358.88,76.09 360.03,75.39 361.19,74.69 362.35,73.99 363.50,73.29 364.66,72.59 365.82,71.89 366.97,71.20 368.13,70.50 369.28,69.81 370.44,69.12 371.60,68.43 372.75,67.74 373.91,67.05 375.07,66.36 376.22,65.68 377.38,64.99 378.54,64.31 379.69,63.63 380.85,62.95 382.01,62.27 383.16,61.60 384.32,60.93 385.48,60.26 386.63,59.59 387.79,58.93 388.95,58.26 390.10,57.60 391.26,56.95 392.42,56.29 393.57,55.64 394.73,55.00 395.89,54.35 397.04,53.71 398.20,53.08 399.36,52.44 400.51,51.82 401.67,51.19 402.83,50.57 403.98,49.96 405.14,49.35 406.30,48.75 407.45,48.15 408.61,47.55 409.77,46.97 410.92,46.39 412.08,45.81 413.24,45.24 414.39,44.68 415.55,44.13 416.71,43.59 417.86,43.05 419.02,42.52 420.18,42.00 421.33,41.49 422.49,40.99 423.65,40.49 424.80,40.01 425.96,39.54 427.12,39.07 428.27,38.62 429.43,38.18 430.58,37.75 431.74,37.33 432.90,36.93 434.05,36.53 435.21,36.15 436.37,35.78 437.52,35.43 438.68,35.09 439.84,34.77 440.99,34.45 442.15,34.16 443.31,33.88 444.46,33.62 445.62,33.37 446.78,33.14 447.93,32.92 449.09,32.73 450.25,32.55 451.40,32.39 452.56,32.24 453.72,32.12 454.87,32.02 456.03,31.93 457.19,31.87 458.34,31.82 459.50,31.80" fill="none" stroke="#d62728" stroke-width="1.2" stroke-dasharray="4.6,1.9" clip-path="url(#cb)" stroke-linejoin="round" />
<polyline points="275.60,145.98 276.76,145.12 277.91,144.25 279.07,143.39 280.23,142.53 281.38,141.66 282.54,140.80 283.70,139.94 284.85,139.07 286.01,138.21 287.17,137.35 288.32,136.48 289.48,135.62 290.64,134.76 291.79,133.89 292.95,133.03 294.11,132.17 295.26,131.31 296.42,130.44 297.58,129.58 298.73,128.72 299.89,127.85 301.05,126.99 302.20,126.13 303.36,125.26 304.52,124.40 305.67,123.54 306.83,122.68 307.98,121.81 309.14,120.95 310.30,120.09 311.45,119.23 312.61,118.36 313.77,117.50 314.92,116.64 316.08,115.78 317.24,114.91 318.39,114.05 319.55,113.19 320.71,112.33 321.86,111.47 323.02,110.60 324.18,109.74 325.33,108.88 326.49,108.02 327.65,107.16 328.80,106.30 329.96,105.44 331.12,104.58 332.27,103.71 333.43,102.85 334.59,101.99 335.74,101.13 336.90,100.27 338.06,99.41 339.21,98.55 340.37,97.69 341.53,96.84 342.68,95.98 343.84,95.12 345.00,94.26 346.15,93.40 347.31,92.54 348.47,91.69 349.62,90.83 350.78,89.97 351.94,89.12 353.09,88.26 354.25,87.41 355.41,86.55 356.56,85.70 357.72,84.84 358.88,83.99 360.03,83.14 361.19,82.29 362.35,81.44 363.50,80.59 364.66,79.74 365.82,78.89 366.97,78.04 368.13,77.19 369.28,76.35 370.44,75.50 371.60,74.66 372.75,73.82 373.91,72.98 375.07,72.14 376.22,71.30 377.38,70.46 378.54,69.63 379.69,68.80 380.85,67.97 382.01,67.14 383.16,66.31 384.32,65.49 385.48,64.66 386.63,63.84 387.79,63.03 388.95,62.21 390.10,61.40 391.26,60.59 392.42,59.79 393.57,58.99 394.73,58.19 395.89,57.40 397.04,56.61 398.20,55.83 399.36,55.05 400.51,54.27 401.67,53.50 402.83,52.74 403.98,51.98 405.14,51.23 406.30,50.48 407.45,49.75 408.61,49.02 409.77,48.29 410.92,47.58 412.08,46.87 413.24,46.18 414.39,45.49 415.55,44.81 416.71,44.14 417.86,43.49 419.02,42.84 420.18,42.21 421.33,41.59 422.49,40.98 423.65,40.39 424.80,39.82 425.96,39.27 427.12,38.73 428.27,38.21 429.43,37.71 430.58,37.23 431.74,36.76 432.90,36.31 434.05,35.88 435.21,35.47 436.37,35.08 437.52,34.70 438.68,34.34 439.84,34.00 440.99,33.67 442.15,33.36 443.31,33.07 444.46,32.80 445.62,32.54 446.78,32.31 447.93,32.08 449.09,31.88 450.25,31.69 451.40,31.52 452.56,31.37 453.72,31.23 454.87,31.11 456.03,31.01 457.19,30.92 458.34,30.85 459.50,30.80" fill="none" stroke="#9467bd" stroke-width="1.2" stroke-dasharray="4.6,1.9" clip-path="url(#cb)" stroke-linejoin="round" />
<polyline points="275.60,67.63 276.76,67.35 277.91,67.08 279.07,66.80 280.23,66.52 281.38,66.24 282.54,65.96 283.70,65.69 284.85,65.41 286.01,65.13 287.17,64.85 288.32,64.58 289.48,64.30 290.64,64.03 291.79,63.75 292.95,63.47 294.11,63.20 295.26,62.92 296.42,62.65 297.58,62.37 298.73,62.10 299.89,61.82 301.05,61.55 302.20,61.27 303.36,61.00 304.52,60.73 305.67,60.45 306.83,60.18 307.98,59.91 309.14,59.63 310.30,59.36 311.45,59.09 312.61,58.82 313.77,58.55 314.92,58.27 316.08,58.00 317.24,57.73 318.39,57.46 319.55,57.19 320.71,56.92 321.86,56.65 323.02,56.38 324.18,56.11 325.33,55.85 326.49,55.58 327.65,55.31 328.80,55.04 329.96,54.78 331.12,54.51 332.27,54.24 333.43,53.98 334.59,53.71 335.74,53.45 336.90,53.18 338.06,52.92 339.21,52.66 340.37,52.39 341.53,52.13 342.68,51.87 343.84,51.61 345.00,51.35 346.15,51.08 347.31,50.82 348.47,50.56 349.62,50.31 350.78,50.05 351.94,49.79 353.09,49.53 354.25,49.27 355.41,49.02 356.56,48.76 357.72,48.51 358.88,48.25 360.03,48.00 361.19,47.74 362.35,47.49 363.50,47.24 364.66,46.99 365.82,46.74 366.97,46.49 368.13,46.24 369.28,45.99 370.44,45.74 371.60,45.49 372.75,45.25 373.91,45.00 375.07,44.76 376.22,44.51 377.38,44.27 378.54,44.03 379.69,43.78 380.85,43.54 382.01,43.30 383.16,43.06 384.32,42.83 385.48,42.59 386.63,42.35 387.79,42.12 388.95,41.88 390.10,41.65 391.26,41.42 392.42,41.19 393.57,40.95 394.73,40.72 395.89,40.49 397.04,40.26 398.20,40.02 399.36,39.79 400.51,39.57 401.67,39.35 402.83,39.15 403.98,38.96 405.14,38.78 406.30,38.62 407.45,38.46 408.61,38.31 409.77,38.17 410.92,38.03 412.08,37.90 413.24,37.77 414.39,37.64 415.55,37.51 416.71,37.38 417.86,37.25 419.02,37.11 420.18,36.97 421.33,36.82 422.49,36.67 423.65,36.50 424.80,36.33 425.96,36.15 427.12,35.95 428.27,35.75 429.43,35.54 430.58,35.31 431.74,35.09 432.90,34.85 434.05,34.61 435.21,34.37 436.37,34.12 437.52,33.87 438.68,33.62 439.84,33.37 440.99,33.11 442.15,32.86 443.31,32.61 444.46,32.36 445.62,32.12 446.78,31.88 447.93,31.65 449.09,31.42 450.25,31.20 451.40,30.99 452.56,30.78 453.72,30.59 454.87,30.41 456.03,30.24 457.19,30.08 458.34,29.93 459.50,29.80" fill="none" stroke="#1f77b4" stroke-width="1.2" clip-path="url(#cb)" stroke-linejoin="round" />
<polyline points="275.60,81.33 276.76,80.92 277.91,80.51 279.07,80.10 280.23,79.69 281.38,79.28 282.54,78.87 283.70,78.46 284.85,78.06 286.01,77.65 287.17,77.24 288.32,76.83 289.48,76.42 290.64,76.02 291.79,75.61 292.95,75.20 294.11,74.80 295.26,74.39 296.42,73.98 297.58,73.58 298.73,73.17 299.89,72.77 301.05,72.36 302.20,71.95 303.36,71.55 304.52,71.14 305.67,70.74 306.83,70.34 307.98,69.93 309.14,69.53 310.30,69.12 311.45,68.72 312.61,68.32 313.77,67.92 314.92,67.51 316.08,67.11 317.24,66.71 318.39,66.31 319.55,65.91 320.71,65.51 321.86,65.11 323.02,64.71 324.18,64.31 325.33,63.91 326.49,63.51 327.65,63.11 328.80,62.71 329.96,62.32 331.12,61.92 332.27,61.52 333.43,61.13 334.59,60.73 335.74,60.34 336.90,59.94 338.06,59.55 339.21,59.16 340.37,58.76 341.53,58.37 342.68,57.98 343.84,57.59 345.00,57.20 346.15,56.81 347.31,56.42 348.47,56.04 349.62,55.65 350.78,55.26 351.94,54.88 353.09,54.49 354.25,54.11 355.41,53.72 356.56,53.34 357.72,52.96 358.88,52.58 360.03,52.20 361.19,51.82 362.35,51.44 363.50,51.07 364.66,50.69 365.82,50.32 366.97,49.94 368.13,49.57 369.28,49.20 370.44,48.83 371.60,48.46 372.75,48.09 373.91,47.73 375.07,47.36 376.22,47.00 377.38,46.64 378.54,46.28 379.69,45.92 380.85,45.56 382.01,45.21 383.16,44.85 384.32,44.50 385.48,44.15 386.63,43.80 387.79,43.45 388.95,43.11 390.10,42.76 391.26,42.42 392.42,42.08 393.57,41.74 394.73,41.40 395.89,41.07 397.04,40.73 398.20,40.39 399.36,40.06 400.51,39.73 401.67,39.42 402.83,39.11 403.98,38.82 405.14,38.54 406.30,38.27 407.45,38.01 408.61,37.76 409.77,37.51 410.92,37.27 412.08,37.04 413.24,36.81 414.39,36.58 415.55,36.35 416.71,36.12 417.86,35.89 419.02,35.66 420.18,35.43 421.33,35.19 422.49,34.95 423.65,34.70 424.80,34.44 425.96,34.18 427.12,33.91 428.27,33.63 429.43,33.35 430.58,33.06 431.74,32.77 432.90,32.48 434.05,32.19 435.21,31.90 436.37,31.61 437.52,31.32 438.68,31.04 439.84,30.76 440.99,30.48 442.15,30.21 443.31,29.96 444.46,29.71 445.62,29.47 446.78,29.24 447.93,29.02 449.09,28.82 450.25,28.63 451.40,28.46 452.56,28.31 453.72,28.17 454.87,28.05 456.03,27.96 457.19,27.88 458.34,27.83 459.50,27.80" fill="none" stroke="#ff7f0e" stroke-width="1.2" clip-path="url(#cb)" stroke-linejoin="round" />
<polyline points="275.60,99.62 276.76,99.04 277.91,98.46 279.07,97.88 280.23,97.30 281.38,96.72 282.54,96.14 283.70,95.56 284.85,94.98 286.01,94.40 287.17,93.83 288.32,93.25 289.48,92.67 290.64,92.09 291.79,91.51 292.95,90.93 294.11,90.36 295.26,89.78 296.42,89.20 297.58,88.62 298.73,88.04 299.89,87.47 301.05,86.89 302.20,86.31 303.36,85.74 304.52,85.16 305.67,84.58 306.83,84.01 307.98,83.43 309.14,82.85 310.30,82.28 311.45,81.70 312.61,81.13 313.77,80.55 314.92,79.98 316.08,79.40 317.24,78.83 318.39,78.25 319.55,77.68 320.71,77.11 321.86,76.53 323.02,75.96 324.18,75.39 325.33,74.82 326.49,74.25 327.65,73.67 328.80,73.10 329.96,72.53 331.12,71.96 332.27,71.39 333.43,70.82 334.59,70.26 335.74,69.69 336.90,69.12 338.06,68.55 339.21,67.99 340.37,67.42 341.53,66.86 342.68,66.29 343.84,65.73 345.00,65.17 346.15,64.60 347.31,64.04 348.47,63.48 349.62,62.92 350.78,62.36 351.94,61.81 353.09,61.25 354.25,60.69 355.41,60.14 356.56,59.59 357.72,59.03 358.88,58.48 360.03,57.93 361.19,57.38 362.35,56.84 363.50,56.29 364.66,55.74 365.82,55.20 366.97,54.66 368.13,54.12 369.28,53.58 370.44,53.04 371.60,52.51 372.75,51.98 373.91,51.45 375.07,50.92 376.22,50.39 377.38,49.86 378.54,49.34 379.69,48.82 380.85,48.30 382.01,47.79 383.16,47.28 384.32,46.77 385.48,46.26 386.63,45.75 387.79,45.25 388.95,44.76 390.10,44.26 391.26,43.77 392.42,43.28 393.57,42.80 394.73,42.31 395.89,41.83 397.04,41.35 398.20,40.87 399.36,40.40 400.51,39.94 401.67,39.50 402.83,39.07 403.98,38.66 405.14,38.27 406.30,37.89 407.45,37.53 408.61,37.18 409.77,36.84 410.92,36.51 412.08,36.19 413.24,35.88 414.39,35.57 415.55,35.26 416.71,34.95 417.86,34.65 419.02,34.35 420.18,34.04 421.33,33.73 422.49,33.41 423.65,33.09 424.80,32.76 425.96,32.42 427.12,32.07 428.27,31.71 429.43,31.35 430.58,30.99 431.74,30.62 432.90,30.26 434.05,29.90 435.21,29.54 436.37,29.19 437.52,28.85 438.68,28.51 439.84,28.19 440.99,27.88 442.15,27.59 443.31,27.32 444.46,27.06 445.62,26.83 446.78,26.61 447.93,26.42 449.09,26.26 450.25,26.13 451.40,26.03 452.56,25.96 453.72,25.92 454.87,25.92 456.03,25.95 457.19,26.03 458.34,26.14 459.50,26.30" fill="none" stroke="#2ca02c" stroke-width="1.2" clip-path="url(#cb)" stroke-linejoin="round" />
<polyline points="275.60,118.07 276.76,117.32 277.91,116.57 279.07,115.82 280.23,115.07 281.38,114.32 282.54,113.57 283.70,112.82 284.85,112.08 286.01,111.33 287.17,110.58 288.32,109.83 289.48,109.08 290.64,108.33 291.79,107.58 292.95,106.83 294.11,106.09 295.26,105.34 296.42,104.59 297.58,103.84 298.73,103.09 299.89,102.34 301.05,101.60 302.20,100.85 303.36,100.10 304.52,99.35 305.67,98.61 306.83,97.86 307.98,97.11 309.14,96.36 310.30,95.62 311.45,94.87 312.61,94.12 313.77,93.38 314.92,92.63 316.08,91.88 317.24,91.14 318.39,90.39 319.55,89.65 320.71,88.90 321.86,88.16 323.02,87.41 324.18,86.67 325.33,85.92 326.49,85.18 327.65,84.43 328.80,83.69 329.96,82.95 331.12,82.20 332.27,81.46 333.43,80.72 334.59,79.98 335.74,79.24 336.90,78.50 338.06,77.76 339.21,77.02 340.37,76.28 341.53,75.54 342.68,74.80 343.84,74.06 345.00,73.33 346.15,72.59 347.31,71.86 348.47,71.12 349.62,70.39 350.78,69.66 351.94,68.93 353.09,68.19 354.25,67.46 355.41,66.74 356.56,66.01 357.72,65.28 358.88,64.56 360.03,63.83 361.19,63.11 362.35,62.39 363.50,61.67 364.66,60.95 365.82,60.24 366.97,59.52 368.13,58.81 369.28,58.10 370.44,57.39 371.60,56.69 372.75,55.98 373.91,55.28 375.07,54.58 376.22,53.89 377.38,53.19 378.54,52.50 379.69,51.81 380.85,51.13 382.01,50.45 383.16,49.77 384.32,49.10 385.48,48.43 386.63,47.77 387.79,47.11 388.95,46.45 390.10,45.80 391.26,45.15 392.42,44.51 393.57,43.88 394.73,43.24 395.89,42.61 397.04,41.99 398.20,41.36 399.36,40.75 400.51,40.15 401.67,39.57 402.83,39.02 403.98,38.49 405.14,37.99 406.30,37.51 407.45,37.05 408.61,36.61 409.77,36.18 410.92,35.77 412.08,35.38 413.24,35.00 414.39,34.63 415.55,34.27 416.71,33.91 417.86,33.57 419.02,33.23 420.18,32.89 421.33,32.56 422.49,32.23 423.65,31.89 424.80,31.56 425.96,31.22 427.12,30.88 428.27,30.53 429.43,30.19 430.58,29.85 431.74,29.51 432.90,29.17 434.05,28.84 435.21,28.52 436.37,28.20 437.52,27.89 438.68,27.59 439.84,27.31 440.99,27.03 442.15,26.77 443.31,26.52 444.46,26.30 445.62,26.08 446.78,25.89 447.93,25.72 449.09,25.57 450.25,25.44 451.40,25.34 452.56,25.26 453.72,25.21 454.87,25.19 456.03,25.19 457.19,25.23 458.34,25.30 459.50,25.40" fill="none" stroke="#d62728" stroke-width="1.2" clip-path="url(#cb)" stroke-linejoin="round" />
<polyline points="275.60,136.08 276.76,135.16 277.91,134.25 279.07,133.33 280.23,132.42 281.38,131.51 282.54,130.59 283.70,129.68 284.85,128.76 286.01,127.85 287.17,126.94 288.32,126.02 289.48,125.11 290.64,124.20 291.79,123.28 292.95,122.37 294.11,121.46 295.26,120.54 296.42,119.63 297.58,118.71 298.73,117.80 299.89,116.89 301.05,115.97 302.20,115.06 303.36,114.15 304.52,113.24 305.67,112.32 306.83,111.41 307.98,110.50 309.14,109.58 310.30,108.67 311.45,107.76 312.61,106.85 313.77,105.93 314.92,105.02 316.08,104.11 317.24,103.20 318.39,102.28 319.55,101.37 320.71,100.46 321.86,99.55 323.02,98.64 324.18,97.73 325.33,96.81 326.49,95.90 327.65,94.99 328.80,94.08 329.96,93.17 331.12,92.26 332.27,91.35 333.43,90.44 334.59,89.54 335.74,88.63 336.90,87.72 338.06,86.81 339.21,85.90 340.37,85.00 341.53,84.09 342.68,83.18 343.84,82.28 345.00,81.37 346.15,80.47 347.31,79.56 348.47,78.66 349.62,77.76 350.78,76.86 351.94,75.96 353.09,75.06 354.25,74.16 355.41,73.26 356.56,72.36 357.72,71.47 358.88,70.57 360.03,69.68 361.19,68.79 362.35,67.90 363.50,67.01 364.66,66.12 365.82,65.23 366.97,64.35 368.13,63.47 369.28,62.59 370.44,61.71 371.60,60.84 372.75,59.97 373.91,59.10 375.07,58.23 376.22,57.37 377.38,56.51 378.54,55.65 379.69,54.79 380.85,53.95 382.01,53.10 383.16,52.26 384.32,51.42 385.48,50.59 386.63,49.77 387.79,48.95 388.95,48.13 390.10,47.32 391.26,46.52 392.42,45.73 393.57,44.94 394.73,44.16 395.89,43.38 397.04,42.61 398.20,41.84 399.36,41.09 400.51,40.36 401.67,39.65 402.83,38.97 403.98,38.33 405.14,37.73 406.30,37.15 407.45,36.59 408.61,36.07 409.77,35.56 410.92,35.08 412.08,34.62 413.24,34.18 414.39,33.76 415.55,33.35 416.71,32.96 417.86,32.58 419.02,32.21 420.18,31.85 421.33,31.49 422.49,31.14 423.65,30.80 424.80,30.46 425.96,30.12 427.12,29.78 428.27,29.44 429.43,29.10 430.58,28.77 431.74,28.45 432.90,28.13 434.05,27.81 435.21,27.50 436.37,27.21 437.52,26.92 438.68,26.64 439.84,26.37 440.99,26.11 442.15,25.87 443.31,25.64 444.46,25.43 445.62,25.23 446.78,25.05 447.93,24.88 449.09,24.74 450.25,24.61 451.40,24.50 452.56,24.42 453.72,24.36 454.87,24.31 456.03,24.30 457.19,24.31 458.34,24.34 459.50,24.40" fill="none" stroke="#9467bd" stroke-width="1.2" clip-path="url(#cb)" stroke-linejoin="round" />
<line x1="275.90" y1="133.50" x2="275.90" y2="136.70" stroke="#2ca02c" stroke-width="1.3" clip-path="url(#cb)"/>
<line x1="275.90" y1="159.40" x2="275.90" y2="170.60" stroke="#d62728" stroke-width="1.3" clip-path="url(#cb)"/>
<line x1="296.30" y1="146.10" x2="296.30" y2="152.20" stroke="#d62728" stroke-width="1.3" clip-path="url(#cb)"/>
<line x1="316.70" y1="132.00" x2="316.70" y2="136.50" stroke="#d62728" stroke-width="1.3" clip-path="url(#cb)"/>
<line x1="275.90" y1="182.60" x2="275.90" y2="213.00" stroke="#9467bd" stroke-width="1.3" clip-path="url(#cb)"/>
<line x1="296.30" y1="171.30" x2="296.30" y2="190.80" stroke="#9467bd" stroke-width="1.3" clip-path="url(#cb)"/>
<line x1="316.70" y1="151.30" x2="316.70" y2="158.60" stroke="#9467bd" stroke-width="1.3" clip-path="url(#cb)"/>
<line x1="337.10" y1="132.00" x2="337.10" y2="135.60" stroke="#9467bd" stroke-width="1.3" clip-path="url(#cb)"/>
<line x1="402.90" y1="14.60" x2="402.90" y2="212.30" stroke="#cc44cc" stroke-width="2.0" />
<line x1="425.10" y1="14.60" x2="425.10" y2="212.30" stroke="#000" stroke-width="1.2" stroke-dasharray="6,2,1.2,2" />
<line x1="424.90" y1="90.20" x2="410.00" y2="90.20" stroke="#bf00bf" stroke-width="2.0" />
<polygon points="403.9,90.2 411.2,86.7 411.2,93.8" fill="#bf00bf"/>
<rect x="337.9" y="137.3" width="57.5" height="69.4" rx="2" ry="2" fill="#fff" fill-opacity="0.8" stroke="#d0d0d0" stroke-width="0.8"/>
<line x1="341.20" y1="144.50" x2="361.40" y2="144.50" stroke="#1f77b4" stroke-width="1.3" />
<line x1="351.30" y1="139.90" x2="351.30" y2="149.10" stroke="#1f77b4" stroke-width="1.3" />
<text x="369.30" y="148.90" font-size="11.2" text-anchor="start" ><tspan font-style="italic">L</tspan>=3</text>
<line x1="341.20" y1="157.95" x2="361.40" y2="157.95" stroke="#ff7f0e" stroke-width="1.3" />
<line x1="351.30" y1="153.35" x2="351.30" y2="162.55" stroke="#ff7f0e" stroke-width="1.3" />
<text x="369.30" y="162.35" font-size="11.2" text-anchor="start" ><tspan font-style="italic">L</tspan>=5</text>
<line x1="341.20" y1="171.40" x2="361.40" y2="171.40" stroke="#2ca02c" stroke-width="1.3" />
<line x1="351.30" y1="166.80" x2="351.30" y2="176.00" stroke="#2ca02c" stroke-width="1.3" />
<text x="369.30" y="175.80" font-size="11.2" text-anchor="start" ><tspan font-style="italic">L</tspan>=7</text>
<line x1="341.20" y1="184.85" x2="361.40" y2="184.85" stroke="#d62728" stroke-width="1.3" />
<line x1="351.30" y1="180.25" x2="351.30" y2="189.45" stroke="#d62728" stroke-width="1.3" />
<text x="369.30" y="189.25" font-size="11.2" text-anchor="start" ><tspan font-style="italic">L</tspan>=9</text>
<line x1="341.20" y1="198.30" x2="361.40" y2="198.30" stroke="#9467bd" stroke-width="1.3" />
<line x1="351.30" y1="193.70" x2="351.30" y2="202.90" stroke="#9467bd" stroke-width="1.3" />
<text x="369.30" y="202.70" font-size="11.2" text-anchor="start" ><tspan font-style="italic">L</tspan>=11</text>
<polygon points="605,45.6 615,47.0 620,47.6 626,51.0 634.8,54.8 645.1,64.2 649.5,70.1 651.3,73.7 653.2,80.4 654.5,84.5 656.3,90 657.8,96 658.4,104 658.6,150 659.5,150 659.5,45.6" fill="#e0e0e0"/>
<polyline points="498.30,47.40 560.00,48.20 596.00,49.20 615.00,50.60 626.00,53.00 634.10,55.60 640.00,59.80 646.00,66.50 651.00,75.00 654.00,86.00 656.00,95.00 657.20,110.00 657.60,207.00" fill="none" stroke="#ffb0dc" stroke-width="1.1" clip-path="url(#cc)" stroke-linejoin="round" />
<line x1="568.70" y1="154.70" x2="680.30" y2="22.00" stroke="#1f77b4" stroke-width="1.2" />
<line x1="498.30" y1="45.60" x2="684.10" y2="45.60" stroke="#000" stroke-width="1.1" stroke-dasharray="1.2,1.8" />
<line x1="659.50" y1="14.30" x2="659.50" y2="212.30" stroke="#000" stroke-width="1.2" stroke-dasharray="3,2" />
<polyline points="498.30,45.80 595.00,45.80 605.00,46.10 615.00,47.00 620.00,47.60 626.00,51.00 634.80,54.80 645.10,64.20 649.50,70.10 651.30,73.70 653.20,80.40 654.50,84.50 656.30,90.00 657.80,96.00 658.40,104.00 658.80,150.00 659.60,206.50" fill="none" stroke="#c000c0" stroke-width="1.8" clip-path="url(#cc)" stroke-linejoin="round" stroke-opacity="0.85"/>
<polygon points="657.6,205.6 662.2,205.6 659.9,210.0" fill="#c000c0" fill-opacity="0.9"/>
<line x1="659.40" y1="45.70" x2="650.30" y2="57.90" stroke="#bf00bf" stroke-width="1.6" />
<polygon points="645.4,63.1 647.2,55.5 653.4,60.2" fill="#bf00bf"/>
<polyline points="498.30,157.90 499.01,158.11 499.72,158.32 500.43,158.53 501.14,158.74 501.85,158.96 502.56,159.18 503.27,159.40 503.98,159.63 504.69,159.86 505.40,160.09 506.11,160.33 506.82,160.57 507.53,160.82 508.24,161.07 508.95,161.33 509.66,161.59 510.37,161.87 511.08,162.15 511.79,162.43 512.50,162.73 513.21,163.03 513.92,163.34 514.63,163.66 515.34,163.99 516.05,164.33 516.76,164.68 517.47,165.04 518.18,165.40 518.89,165.78 519.60,166.18 520.31,166.58 521.02,167.00 521.73,167.42 522.44,167.86 523.15,168.32 523.86,168.79 524.57,169.27 525.28,169.76 525.99,170.26 526.71,170.78 527.42,171.31 528.13,171.86 528.84,172.41 529.55,172.98 530.26,173.56 530.97,174.15 531.68,174.76 532.39,175.38 533.10,176.00 533.81,176.65 534.52,177.30 535.23,177.98 535.94,178.67 536.65,179.38 537.36,180.12 538.07,180.88 538.78,181.66 539.49,182.47 540.20,183.31 540.91,184.18 541.62,185.08 542.33,186.02 543.04,186.99 543.75,188.01 544.46,189.07 545.17,190.18 545.88,191.33 546.59,192.53 547.30,193.80 548.01,195.14 548.72,196.55 549.43,198.05 550.14,199.66 550.85,201.37 551.56,203.22 552.27,205.28 552.98,207.63 553.69,210.34 554.40,213.50" fill="none" stroke="#ff69b4" stroke-width="1.3" clip-path="url(#cc)" stroke-linejoin="round" />
<line x1="504.60" y1="138.50" x2="504.60" y2="53.80" stroke="#ff69b4" stroke-width="1.1" />
<polyline points="502.0,57.8 504.6,53.6 507.2,57.8" fill="none" stroke="#ff69b4" stroke-width="1.1"/>
<line x1="572.30" y1="204.20" x2="654.40" y2="204.20" stroke="#ff69b4" stroke-width="1.1" />
<polyline points="650.4,201.6 654.6,204.2 650.4,206.8" fill="none" stroke="#ff69b4" stroke-width="1.1"/>
<rect x="45.5" y="14.3" width="186.5" height="198.0" fill="none" stroke="#333" stroke-width="1"/>
<rect x="273.3" y="14.6" width="186.2" height="197.70000000000002" fill="none" stroke="#333" stroke-width="1"/>
<rect x="498.3" y="14.3" width="185.8" height="198.0" fill="none" stroke="#333" stroke-width="1"/>
<line x1="45.56" y1="212.30" x2="45.56" y2="213.90" stroke="#333" stroke-width="0.9" />
<line x1="55.75" y1="212.30" x2="55.75" y2="213.90" stroke="#333" stroke-width="0.9" />
<line x1="64.36" y1="212.30" x2="64.36" y2="213.90" stroke="#333" stroke-width="0.9" />
<line x1="71.83" y1="212.30" x2="71.83" y2="213.90" stroke="#333" stroke-width="0.9" />
<line x1="78.41" y1="212.30" x2="78.41" y2="213.90" stroke="#333" stroke-width="0.9" />
<line x1="84.30" y1="212.30" x2="84.30" y2="214.90" stroke="#333" stroke-width="0.9" />
<line x1="123.04" y1="212.30" x2="123.04" y2="213.90" stroke="#333" stroke-width="0.9" />
<line x1="145.71" y1="212.30" x2="145.71" y2="213.90" stroke="#333" stroke-width="0.9" />
<line x1="161.79" y1="212.30" x2="161.79" y2="213.90" stroke="#333" stroke-width="0.9" />
<line x1="174.26" y1="212.30" x2="174.26" y2="213.90" stroke="#333" stroke-width="0.9" />
<line x1="184.45" y1="212.30" x2="184.45" y2="213.90" stroke="#333" stroke-width="0.9" />
<line x1="193.06" y1="212.30" x2="193.06" y2="213.90" stroke="#333" stroke-width="0.9" />
<line x1="200.53" y1="212.30" x2="200.53" y2="213.90" stroke="#333" stroke-width="0.9" />
<line x1="207.11" y1="212.30" x2="207.11" y2="213.90" stroke="#333" stroke-width="0.9" />
<line x1="213.00" y1="212.30" x2="213.00" y2="214.90" stroke="#333" stroke-width="0.9" />
<line x1="42.90" y1="32.40" x2="45.50" y2="32.40" stroke="#333" stroke-width="0.9" />
<line x1="42.90" y1="83.60" x2="45.50" y2="83.60" stroke="#333" stroke-width="0.9" />
<line x1="42.90" y1="134.80" x2="45.50" y2="134.80" stroke="#333" stroke-width="0.9" />
<line x1="42.90" y1="186.00" x2="45.50" y2="186.00" stroke="#333" stroke-width="0.9" />
<line x1="277.57" y1="212.30" x2="277.57" y2="213.90" stroke="#333" stroke-width="0.9" />
<line x1="323.35" y1="212.30" x2="323.35" y2="213.90" stroke="#333" stroke-width="0.9" />
<line x1="355.84" y1="212.30" x2="355.84" y2="213.90" stroke="#333" stroke-width="0.9" />
<line x1="381.03" y1="212.30" x2="381.03" y2="213.90" stroke="#333" stroke-width="0.9" />
<line x1="401.62" y1="212.30" x2="401.62" y2="213.90" stroke="#333" stroke-width="0.9" />
<line x1="419.03" y1="212.30" x2="419.03" y2="213.90" stroke="#333" stroke-width="0.9" />
<line x1="434.10" y1="212.30" x2="434.10" y2="213.90" stroke="#333" stroke-width="0.9" />
<line x1="447.40" y1="212.30" x2="447.40" y2="213.90" stroke="#333" stroke-width="0.9" />
<line x1="459.30" y1="212.30" x2="459.30" y2="214.90" stroke="#333" stroke-width="0.9" />
<line x1="270.70" y1="14.60" x2="273.30" y2="14.60" stroke="#333" stroke-width="0.9" />
<line x1="271.70" y1="47.50" x2="273.30" y2="47.50" stroke="#333" stroke-width="0.9" />
<line x1="271.70" y1="37.60" x2="273.30" y2="37.60" stroke="#333" stroke-width="0.9" />
<line x1="271.70" y1="31.80" x2="273.30" y2="31.80" stroke="#333" stroke-width="0.9" />
<line x1="271.70" y1="27.69" x2="273.30" y2="27.69" stroke="#333" stroke-width="0.9" />
<line x1="271.70" y1="24.50" x2="273.30" y2="24.50" stroke="#333" stroke-width="0.9" />
<line x1="271.70" y1="21.90" x2="273.30" y2="21.90" stroke="#333" stroke-width="0.9" />
<line x1="271.70" y1="19.70" x2="273.30" y2="19.70" stroke="#333" stroke-width="0.9" />
<line x1="271.70" y1="17.79" x2="273.30" y2="17.79" stroke="#333" stroke-width="0.9" />
<line x1="271.70" y1="16.11" x2="273.30" y2="16.11" stroke="#333" stroke-width="0.9" />
<line x1="270.70" y1="80.40" x2="273.30" y2="80.40" stroke="#333" stroke-width="0.9" />
<line x1="271.70" y1="70.50" x2="273.30" y2="70.50" stroke="#333" stroke-width="0.9" />
<line x1="271.70" y1="64.70" x2="273.30" y2="64.70" stroke="#333" stroke-width="0.9" />
<line x1="271.70" y1="60.59" x2="273.30" y2="60.59" stroke="#333" stroke-width="0.9" />
<line x1="271.70" y1="57.40" x2="273.30" y2="57.40" stroke="#333" stroke-width="0.9" />
<line x1="271.70" y1="54.80" x2="273.30" y2="54.80" stroke="#333" stroke-width="0.9" />
<line x1="271.70" y1="52.60" x2="273.30" y2="52.60" stroke="#333" stroke-width="0.9" />
<line x1="271.70" y1="50.69" x2="273.30" y2="50.69" stroke="#333" stroke-width="0.9" />
<line x1="271.70" y1="49.01" x2="273.30" y2="49.01" stroke="#333" stroke-width="0.9" />
<line x1="271.70" y1="113.30" x2="273.30" y2="113.30" stroke="#333" stroke-width="0.9" />
<line x1="271.70" y1="103.40" x2="273.30" y2="103.40" stroke="#333" stroke-width="0.9" />
<line x1="271.70" y1="97.60" x2="273.30" y2="97.60" stroke="#333" stroke-width="0.9" />
<line x1="271.70" y1="93.49" x2="273.30" y2="93.49" stroke="#333" stroke-width="0.9" />
<line x1="271.70" y1="90.30" x2="273.30" y2="90.30" stroke="#333" stroke-width="0.9" />
<line x1="271.70" y1="87.70" x2="273.30" y2="87.70" stroke="#333" stroke-width="0.9" />
<line x1="271.70" y1="85.50" x2="273.30" y2="85.50" stroke="#333" stroke-width="0.9" />
<line x1="271.70" y1="83.59" x2="273.30" y2="83.59" stroke="#333" stroke-width="0.9" />
<line x1="271.70" y1="81.91" x2="273.30" y2="81.91" stroke="#333" stroke-width="0.9" />
<line x1="270.70" y1="146.20" x2="273.30" y2="146.20" stroke="#333" stroke-width="0.9" />
<line x1="271.70" y1="136.30" x2="273.30" y2="136.30" stroke="#333" stroke-width="0.9" />
<line x1="271.70" y1="130.50" x2="273.30" y2="130.50" stroke="#333" stroke-width="0.9" />
<line x1="271.70" y1="126.39" x2="273.30" y2="126.39" stroke="#333" stroke-width="0.9" />
<line x1="271.70" y1="123.20" x2="273.30" y2="123.20" stroke="#333" stroke-width="0.9" />
<line x1="271.70" y1="120.60" x2="273.30" y2="120.60" stroke="#333" stroke-width="0.9" />
<line x1="271.70" y1="118.40" x2="273.30" y2="118.40" stroke="#333" stroke-width="0.9" />
<line x1="271.70" y1="116.49" x2="273.30" y2="116.49" stroke="#333" stroke-width="0.9" />
<line x1="271.70" y1="114.81" x2="273.30" y2="114.81" stroke="#333" stroke-width="0.9" />
<line x1="271.70" y1="179.10" x2="273.30" y2="179.10" stroke="#333" stroke-width="0.9" />
<line x1="271.70" y1="169.20" x2="273.30" y2="169.20" stroke="#333" stroke-width="0.9" />
<line x1="271.70" y1="163.40" x2="273.30" y2="163.40" stroke="#333" stroke-width="0.9" />
<line x1="271.70" y1="159.29" x2="273.30" y2="159.29" stroke="#333" stroke-width="0.9" />
<line x1="271.70" y1="156.10" x2="273.30" y2="156.10" stroke="#333" stroke-width="0.9" />
<line x1="271.70" y1="153.50" x2="273.30" y2="153.50" stroke="#333" stroke-width="0.9" />
<line x1="271.70" y1="151.30" x2="273.30" y2="151.30" stroke="#333" stroke-width="0.9" />
<line x1="271.70" y1="149.39" x2="273.30" y2="149.39" stroke="#333" stroke-width="0.9" />
<line x1="271.70" y1="147.71" x2="273.30" y2="147.71" stroke="#333" stroke-width="0.9" />
<line x1="270.70" y1="212.00" x2="273.30" y2="212.00" stroke="#333" stroke-width="0.9" />
<line x1="271.70" y1="202.10" x2="273.30" y2="202.10" stroke="#333" stroke-width="0.9" />
<line x1="271.70" y1="196.30" x2="273.30" y2="196.30" stroke="#333" stroke-width="0.9" />
<line x1="271.70" y1="192.19" x2="273.30" y2="192.19" stroke="#333" stroke-width="0.9" />
<line x1="271.70" y1="189.00" x2="273.30" y2="189.00" stroke="#333" stroke-width="0.9" />
<line x1="271.70" y1="186.40" x2="273.30" y2="186.40" stroke="#333" stroke-width="0.9" />
<line x1="271.70" y1="184.20" x2="273.30" y2="184.20" stroke="#333" stroke-width="0.9" />
<line x1="271.70" y1="182.29" x2="273.30" y2="182.29" stroke="#333" stroke-width="0.9" />
<line x1="271.70" y1="180.61" x2="273.30" y2="180.61" stroke="#333" stroke-width="0.9" />
<line x1="498.20" y1="212.30" x2="498.20" y2="213.90" stroke="#333" stroke-width="0.9" />
<line x1="545.76" y1="212.30" x2="545.76" y2="213.90" stroke="#333" stroke-width="0.9" />
<line x1="573.59" y1="212.30" x2="573.59" y2="214.90" stroke="#333" stroke-width="0.9" />
<line x1="593.33" y1="212.30" x2="593.33" y2="213.90" stroke="#333" stroke-width="0.9" />
<line x1="608.64" y1="212.30" x2="608.64" y2="213.90" stroke="#333" stroke-width="0.9" />
<line x1="621.15" y1="212.30" x2="621.15" y2="213.90" stroke="#333" stroke-width="0.9" />
<line x1="631.73" y1="212.30" x2="631.73" y2="213.90" stroke="#333" stroke-width="0.9" />
<line x1="640.89" y1="212.30" x2="640.89" y2="213.90" stroke="#333" stroke-width="0.9" />
<line x1="648.97" y1="212.30" x2="648.97" y2="213.90" stroke="#333" stroke-width="0.9" />
<line x1="656.20" y1="212.30" x2="656.20" y2="214.90" stroke="#333" stroke-width="0.9" />
<line x1="496.70" y1="212.30" x2="498.30" y2="212.30" stroke="#333" stroke-width="0.9" />
<line x1="496.70" y1="154.83" x2="498.30" y2="154.83" stroke="#333" stroke-width="0.9" />
<line x1="495.70" y1="121.22" x2="498.30" y2="121.22" stroke="#333" stroke-width="0.9" />
<line x1="496.70" y1="97.37" x2="498.30" y2="97.37" stroke="#333" stroke-width="0.9" />
<line x1="496.70" y1="78.87" x2="498.30" y2="78.87" stroke="#333" stroke-width="0.9" />
<line x1="496.70" y1="63.75" x2="498.30" y2="63.75" stroke="#333" stroke-width="0.9" />
<line x1="496.70" y1="50.97" x2="498.30" y2="50.97" stroke="#333" stroke-width="0.9" />
<line x1="496.70" y1="39.90" x2="498.30" y2="39.90" stroke="#333" stroke-width="0.9" />
<line x1="496.70" y1="30.14" x2="498.30" y2="30.14" stroke="#333" stroke-width="0.9" />
<line x1="495.70" y1="21.40" x2="498.30" y2="21.40" stroke="#333" stroke-width="0.9" />
<text x="87.90" y="225.80" font-size="11.5" text-anchor="middle" >0.1%</text>
<text x="217.60" y="225.80" font-size="11.5" text-anchor="middle" >1.0%</text>
<text x="326.70" y="225.80" font-size="11.5" text-anchor="middle" >0.3%</text>
<text x="463.50" y="225.80" font-size="11.5" text-anchor="middle" >1.0%</text>
<text x="578.00" y="225.80" font-size="11.5" text-anchor="middle" >3.0%</text>
<text x="661.00" y="225.80" font-size="11.5" text-anchor="middle" >10%</text>
<text x="493.00" y="26.80" font-size="11.5" text-anchor="end" >1.0%</text>
<text x="493.30" y="126.40" font-size="11.5" text-anchor="end" >0.3%</text>
<text x="34.70" y="32.50" font-size="8.5">0</text>
<text x="23.80" y="36.50" font-size="11.5">10</text>
<text x="36.00" y="83.30" font-size="8.5">2</text>
<line x1="30.20" y1="81.00" x2="36.20" y2="81.00" stroke="#222" stroke-width="0.75" />
<text x="18.00" y="87.70" font-size="11.5">10</text>
<text x="36.00" y="134.80" font-size="8.5">4</text>
<line x1="30.20" y1="132.50" x2="36.20" y2="132.50" stroke="#222" stroke-width="0.75" />
<text x="18.00" y="139.20" font-size="11.5">10</text>
<text x="34.00" y="186.00" font-size="8.5">6</text>
<line x1="30.20" y1="183.70" x2="36.20" y2="183.70" stroke="#222" stroke-width="0.75" />
<text x="18.00" y="190.40" font-size="11.5">10</text>
<text x="262.70" y="14.60" font-size="8.5">0</text>
<text x="251.80" y="18.60" font-size="11.5">10</text>
<text x="264.00" y="80.50" font-size="8.5">2</text>
<line x1="258.90" y1="78.20" x2="264.20" y2="78.20" stroke="#222" stroke-width="0.75" />
<text x="246.70" y="84.90" font-size="11.5">10</text>
<text x="264.00" y="146.10" font-size="8.5">4</text>
<line x1="258.90" y1="143.80" x2="264.20" y2="143.80" stroke="#222" stroke-width="0.75" />
<text x="246.70" y="150.50" font-size="11.5">10</text>
<text x="262.00" y="212.10" font-size="8.5">6</text>
<line x1="258.90" y1="209.80" x2="264.20" y2="209.80" stroke="#222" stroke-width="0.75" />
<text x="246.70" y="216.50" font-size="11.5">10</text>
<text x="50.30" y="31.00" font-size="16.5">a</text>
<text x="58.20" y="31.40" font-size="19">)</text>
<text x="278.70" y="31.00" font-size="16.5">b</text>
<text x="287.40" y="31.40" font-size="19">)</text>
<text x="502.20" y="31.00" font-size="16.5">c</text>
<text x="509.60" y="31.40" font-size="19">)</text>
<text x="176.90" y="8.30" font-size="13" font-style="italic">p</text>
<text x="183.20" y="5.10" font-size="9.5">*</text>
<text x="182.80" y="11.70" font-size="8.5">1b</text>
<text x="207.20" y="8.30" font-size="13" font-style="italic">p</text>
<text x="213.70" y="5.10" font-size="9.5">*</text>
<text x="214.40" y="12.70" font-size="8.5">b</text>
<text x="401.20" y="9.30" font-size="11.5" text-anchor="middle" >.61%</text>
<text x="430.80" y="9.30" font-size="11.5" text-anchor="middle" >.75%</text>
<text x="72.40" y="240.40" font-size="14" font-style="italic">p</text>
<text x="79.00" y="242.80" font-size="9.5">b</text>
<text x="88.90" y="240.90" font-size="15">(</text>
<text x="93.00" y="240.80" font-size="14">with</text>
<text x="122.10" y="240.40" font-size="14" font-style="italic">p</text>
<text x="128.80" y="242.80" font-size="9.5">b</text>
<text x="134.20" y="242.90" font-size="19">/</text>
<text x="140.60" y="240.40" font-size="14" font-style="italic">p</text>
<text x="147.30" y="236.40" font-size="11">*</text>
<text x="146.80" y="243.80" font-size="9.5">b</text>
<text x="156.50" y="244.30" font-size="17">=</text>
<text x="170.30" y="240.40" font-size="14" font-style="italic">p</text>
<text x="176.90" y="242.80" font-size="9.5">s</text>
<text x="181.50" y="242.90" font-size="19">/</text>
<text x="187.10" y="240.40" font-size="14" font-style="italic">p</text>
<text x="193.80" y="236.40" font-size="11">*</text>
<text x="193.80" y="243.80" font-size="9.5">s</text>
<text x="198.90" y="240.90" font-size="15">)</text>
<text x="291.50" y="240.40" font-size="14" font-style="italic">p</text>
<text x="298.70" y="242.80" font-size="9.5" letter-spacing="0.45">bulk</text>
<text x="320.80" y="240.90" font-size="15">(</text>
<text x="324.80" y="240.80" font-size="14">with</text>
<text x="354.00" y="240.40" font-size="14" font-style="italic">p</text>
<text x="361.30" y="242.80" font-size="9.5" letter-spacing="0.45">seam</text>
<text x="385.00" y="243.60" font-size="17">=</text>
<text x="397.70" y="240.80" font-size="12.8">14</text>
<text x="410.20" y="240.40" font-size="14" font-style="italic">p</text>
<text x="417.30" y="242.80" font-size="9.5" letter-spacing="0.45">bulk</text>
<text x="435.90" y="240.90" font-size="15">)</text>
<text x="577.20" y="237.20" font-size="14" font-style="italic">p</text>
<text x="584.00" y="239.30" font-size="9.5" letter-spacing="0.45">seam</text>
<text transform="translate(10.3,106.9) rotate(-90)" font-size="13" text-anchor="middle" textLength="62" lengthAdjust="spacing"><tspan font-style="italic">f</tspan>(<tspan font-style="italic">p</tspan><tspan font-size="9" dy="2">b</tspan><tspan dy="-2">, </tspan><tspan font-style="italic">α</tspan><tspan font-size="9" dy="2">c</tspan><tspan dy="-2">, </tspan><tspan font-style="italic">L</tspan>)</text>
<text transform="translate(252.2,106.3) rotate(-90)" font-size="14" text-anchor="middle"><tspan font-style="italic">P</tspan><tspan font-size="9.5" dy="2" letter-spacing="0.4">fail</tspan></text>
<text transform="translate(483.8,87.5) rotate(-90)" font-size="14" text-anchor="middle"><tspan font-style="italic">p</tspan><tspan font-size="9.5" dy="2" letter-spacing="0.45">bulk</tspan></text>
</svg></body></html>
